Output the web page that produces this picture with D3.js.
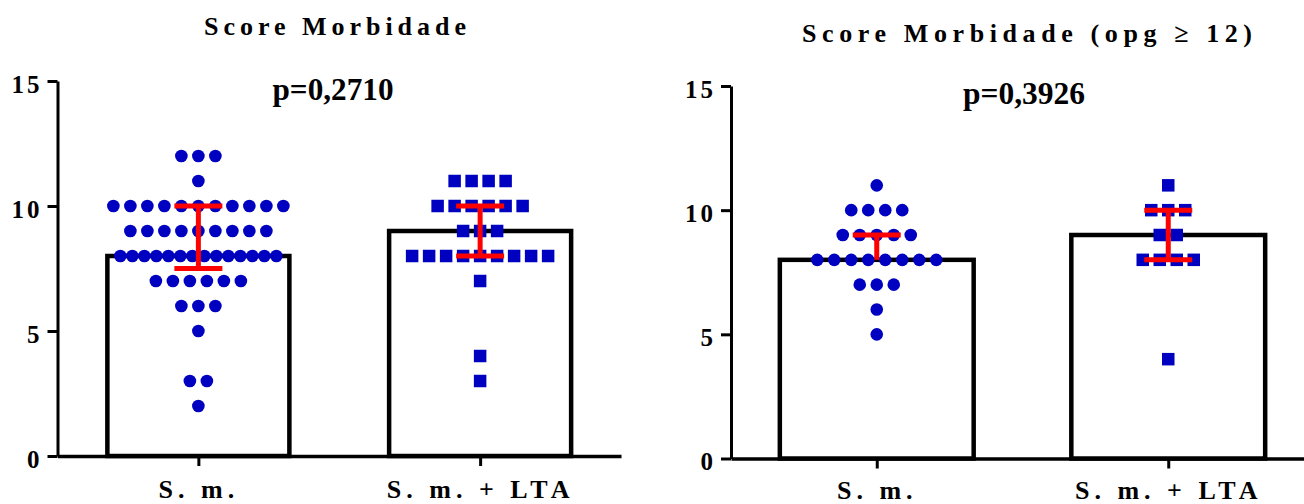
<!DOCTYPE html>
<html>
<head>
<meta charset="utf-8">
<script src="https://cdn.jsdelivr.net/npm/d3@7"></script>
<style>
  html, body { margin: 0; padding: 0; background: #fff; }
  svg { display: block; }
  text { font-family: "Liberation Serif", "Times New Roman", serif; font-weight: bold; fill: #000; }
</style>
</head>
<body>
<svg id="chart" width="1304" height="504"></svg>
<script>
// Group labels and y-axis ticks
const categories = ["S. m.", "S. m. + LTA"];
const yTicks = [0, 5, 10, 15];
const titles = ["Score Morbidade", "Score Morbidade (opg \u2265 12)"];
const pLabels = ["p=0,2710", "p=0,3926"];

// Morbidity score of each subject, all patients
const scoresSm = [
  12, 12, 12,
  11,
  10, 10, 10, 10, 10, 10, 10, 10, 10, 10, 10,
  9, 9, 9, 9, 9, 9, 9, 9, 9,
  8, 8, 8, 8, 8, 8, 8, 8, 8, 8, 8, 8, 8, 8,
  7, 7, 7, 7, 7, 7,
  6, 6, 6,
  5,
  3, 3,
  2
];
const scoresSmLta = [
  11, 11, 11, 11,
  10, 10, 10, 10, 10, 10,
  9, 9, 9,
  8, 8, 8, 8, 8, 8, 8, 8, 8,
  7,
  4,
  3
];

// Morbidity score of each subject, egg count (opg) >= 12
const scoresSmOpg = [
  11,
  10, 10, 10, 10,
  9, 9, 9, 9, 9,
  8, 8, 8, 8, 8, 8, 8, 8,
  7, 7, 7,
  6,
  5
];
const scoresSmLtaOpg = [
  11,
  10, 10, 10,
  9, 9,
  8, 8, 8, 8,
  4
];

const svg = d3.select("#chart");

const panels = [
  { title: titles[0], p: pLabels[0], groups: [scoresSm, scoresSmLta],
    left: 57.5, right: 621, top: 81, bottom: 456, barFrac: 0.646, xPad: 14,
    titleX: 335, titleY: 35, titleW: 262, pX: 333, pY: 100, pW: 121 },
  { title: titles[1], p: pLabels[1], groups: [scoresSmOpg, scoresSmLtaOpg],
    left: 731, right: 1314, top: 86, bottom: 458.5, barFrac: 0.665, xPad: 12,
    titleX: 1027, titleY: 42, titleW: 450, pX: 1024, pY: 104, pW: 122 }
];

const dotColor = "#0000C0";
const errColor = "#FF0000";

panels.forEach(pn => {
  const g = svg.append("g");

  const y = d3.scaleLinear().domain([0, 15]).range([pn.bottom, pn.top]);
  const x = d3.scalePoint().domain(categories).range([pn.left, pn.right]).padding(0.5);
  const barW = x.step() * pn.barFrac;

  // Summary statistics per group: median bar, interquartile error bar
  const stats = pn.groups.map((vals, i) => {
    const s = vals.slice().sort(d3.ascending);
    return {
      cat: categories[i],
      median: d3.quantile(s, 0.5),
      q1: d3.quantile(s, 0.25),
      q3: d3.quantile(s, 0.75),
      vals: s
    };
  });

  // Bars
  g.selectAll("rect.bar").data(stats).join("rect")
    .attr("class", "bar")
    .attr("x", d => x(d.cat) - barW / 2)
    .attr("y", d => y(d.median))
    .attr("width", barW)
    .attr("height", d => y(0) - y(d.median))
    .attr("fill", "#fff")
    .attr("stroke", "#000")
    .attr("stroke-width", 4.5);

  // Axes
  const yAxis = d3.axisLeft(y).tickValues(yTicks).tickSize(10).tickSizeOuter(0).tickPadding(5);
  const ya = g.append("g").attr("transform", `translate(${pn.left},0)`).call(yAxis);
  ya.select(".domain").attr("stroke-width", 3);
  ya.selectAll(".tick line").attr("stroke-width", 3);
  ya.selectAll(".tick text")
    .attr("dy", "0.45em")
    .attr("font-size", 25)
    .style("font-size", "25px")
    .style("letter-spacing", "3px")
    .attr("fill", "#000");

  const xAxis = d3.axisBottom(x).tickSize(10).tickSizeOuter(0).tickPadding(pn.xPad);
  const xa = g.append("g").attr("transform", `translate(0,${pn.bottom})`).call(xAxis);
  xa.select(".domain").attr("stroke-width", 3.5);
  xa.selectAll(".tick line").attr("stroke-width", 3);
  xa.selectAll(".tick text")
    .attr("font-size", 26)
    .style("font-size", "26px")
    .style("letter-spacing", "5px")
    .attr("fill", "#000");

  // Individual points, spread sideways by score row
  const pts = [];
  stats.forEach((st, gi) => {
    const rows = d3.group(st.vals, v => v);
    rows.forEach((arr, v) => {
      const n = arr.length;
      const step = (n - 1) * 17 > 180 ? 12 : 17;
      arr.forEach((_, k) => {
        pts.push({ gi, cx: x(st.cat) + (k - (n - 1) / 2) * step, cy: y(v) });
      });
    });
  });

  g.selectAll("circle.pt").data(pts.filter(d => d.gi === 0)).join("circle")
    .attr("class", "pt")
    .attr("cx", d => d.cx).attr("cy", d => d.cy)
    .attr("r", 6.3)
    .attr("fill", dotColor);

  const sq = 12.5;
  g.selectAll("rect.pt").data(pts.filter(d => d.gi === 1)).join("rect")
    .attr("class", "pt")
    .attr("x", d => d.cx - sq / 2).attr("y", d => d.cy - sq / 2)
    .attr("width", sq).attr("height", sq)
    .attr("fill", dotColor);

  // Interquartile error bars
  const capW = 48;
  stats.forEach(st => {
    const cx = x(st.cat);
    g.append("line")
      .attr("x1", cx).attr("x2", cx)
      .attr("y1", y(st.q1)).attr("y2", y(st.q3))
      .attr("stroke", errColor).attr("stroke-width", 5);
    [st.q1, st.q3].forEach(v => {
      if (v === st.median) return;
      g.append("line")
        .attr("x1", cx - capW / 2).attr("x2", cx + capW / 2)
        .attr("y1", y(v)).attr("y2", y(v))
        .attr("stroke", errColor).attr("stroke-width", 5);
    });
  });

  // Title and p-value
  g.append("text")
    .attr("x", pn.titleX).attr("y", pn.titleY)
    .attr("text-anchor", "middle")
    .attr("textLength", pn.titleW)
    .attr("lengthAdjust", "spacing")
    .style("font-size", "26px")
    .text(pn.title);

  g.append("text")
    .attr("x", pn.pX).attr("y", pn.pY)
    .attr("text-anchor", "middle")
    .attr("textLength", pn.pW)
    .attr("lengthAdjust", "spacingAndGlyphs")
    .style("font-size", "31px")
    .text(pn.p);
});
</script>
</body>
</html>
